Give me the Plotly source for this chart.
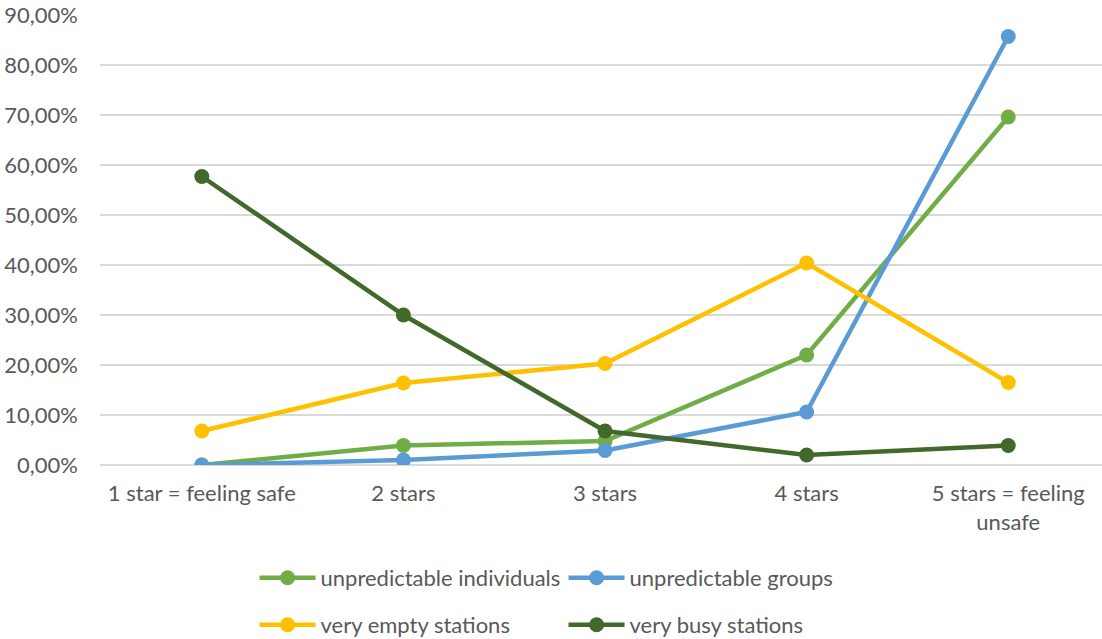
import plotly.graph_objects as go

categories = ["1 star = feeling safe", "2 stars", "3 stars", "4 stars", "5 stars = feeling<br>unsafe"]
unpredictable_individuals = [0.000, 0.039, 0.048, 0.220, 0.696]
unpredictable_groups = [0.000, 0.010, 0.029, 0.106, 0.857]
very_empty_stations = [0.068, 0.164, 0.203, 0.404, 0.165]
very_busy_stations = [0.577, 0.300, 0.068, 0.020, 0.039]
y_ticks = [0, 0.1, 0.2, 0.3, 0.4, 0.5, 0.6, 0.7, 0.8, 0.9]

series = [
    ("unpredictable individuals", unpredictable_individuals, "#70AD47", "legend"),
    ("unpredictable groups", unpredictable_groups, "#5B9BD5", "legend"),
    ("very empty stations", very_empty_stations, "#FFC000", "legend2"),
    ("very busy stations", very_busy_stations, "#43682B", "legend2"),
]

fig = go.Figure()
for name, vals, col, lg in series:
    fig.add_trace(go.Scatter(
        x=list(range(len(categories))), y=vals, name=name, mode="lines+markers",
        line=dict(color=col, width=4.5), marker=dict(color=col, size=15),
        legend=lg,
    ))

font = "Lato, 'Open Sans', sans-serif"
leg_common = dict(
    orientation="h", xref="container", yref="container",
    x=0.231, xanchor="left", yanchor="middle",
    entrywidth=238, entrywidthmode="pixels", itemwidth=56,
    font=dict(size=22, color="#595959"), bgcolor="rgba(0,0,0,0)",
)
fig.update_layout(
    width=1102, height=639,
    margin=dict(l=100, r=0, t=15, b=174),
    paper_bgcolor="white", plot_bgcolor="white",
    separators=",.",
    font=dict(family=font, size=22, color="#595959"),
    showlegend=True,
    legend=dict(y=1 - 578 / 639, **leg_common),
    legend2=dict(y=1 - 625 / 639, **leg_common),
    xaxis=dict(
        tickmode="array", tickvals=list(range(len(categories))), ticktext=categories,
        range=[-0.505, 4.465], showgrid=False, zeroline=False, showline=False,
        ticks="", ticklabelstandoff=13,
    ),
    yaxis=dict(
        range=[0, 0.9], tickvals=y_ticks, tickformat=".2%",
        showgrid=True, gridcolor="#D9D9D9", gridwidth=1.5,
        zeroline=True, zerolinecolor="#D9D9D9", zerolinewidth=1.5,
        showline=False, ticks="", ticklabelstandoff=21,
    ),
)
fig.write_html("out.html")
